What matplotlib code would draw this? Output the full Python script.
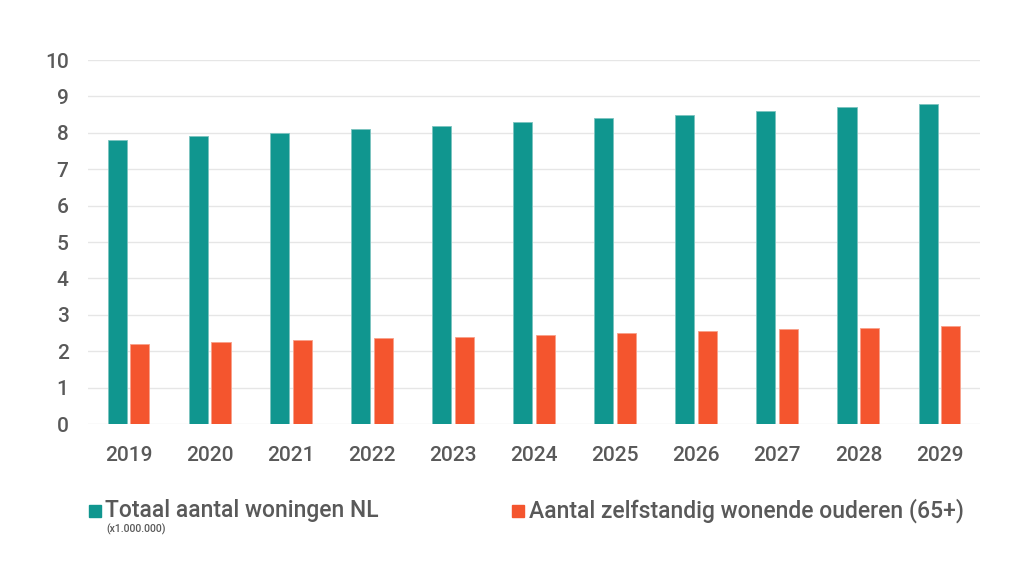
import numpy as np
import matplotlib
matplotlib.use("Agg")
import matplotlib.pyplot as plt
from matplotlib.patches import Rectangle

plt.rcParams['font.family'] = ['Roboto', 'DejaVu Sans']
plt.rcParams['font.weight'] = 'medium'

jaren = ["2019", "2020", "2021", "2022", "2023", "2024", "2025", "2026", "2027", "2028", "2029"]
woningen = [7.8, 7.9, 8.0, 8.1, 8.2, 8.3, 8.4, 8.5, 8.6, 8.7, 8.8]
ouderen = [2.2, 2.25, 2.3, 2.35, 2.4, 2.45, 2.5, 2.55, 2.6, 2.65, 2.7]

teal = "#10968f"
oranje = "#f4552e"
tekst = "#595959"

fig = plt.figure(figsize=(10.24, 5.8), dpi=100)
ax = fig.add_axes([88/1024, 1 - 424/580, 892/1024, 364/580])

x = np.arange(len(jaren))
w = 0.235
ax.bar(x - 0.14, woningen, width=w, color=teal, edgecolor="#7cc4c0", linewidth=0.6, zorder=3)
ax.bar(x + 0.14, ouderen, width=w, color=oranje, edgecolor="#f8a08a", linewidth=0.6, zorder=3)

ax.set_xlim(-0.5, len(jaren) - 0.5)
ax.set_ylim(0, 10)
ax.set_yticks(range(0, 11))
ax.set_xticks(x)
ax.set_xticklabels(jaren)
ax.yaxis.grid(True, color="#e6e6e6", linewidth=1, zorder=0)
ax.set_axisbelow(True)
for s in ax.spines.values():
    s.set_visible(False)
ax.tick_params(axis="both", length=0, labelsize=15, labelcolor=tekst)
ax.tick_params(axis="y", pad=14)
ax.tick_params(axis="x", pad=16)

# legenda
def px(xp, yp):
    return xp / 1024, 1 - yp / 580

fig.patches.append(Rectangle(px(89, 517), 12/1024, 12/580, transform=fig.transFigure, color=teal))
fig.text(*px(105, 511), "Totaal aantal woningen NL", fontsize=16.5, color=tekst, va="center")
fig.text(*px(106, 529), "(x1.000.000)", fontsize=7.5, color=tekst, va="center")
fig.patches.append(Rectangle(px(512, 517), 12/1024, 12/580, transform=fig.transFigure, color=oranje))
fig.text(*px(529, 511), "Aantal zelfstandig wonende ouderen (65+)", fontsize=16.5, color=tekst, va="center")

fig.savefig("out.png", dpi=100, facecolor="white")
